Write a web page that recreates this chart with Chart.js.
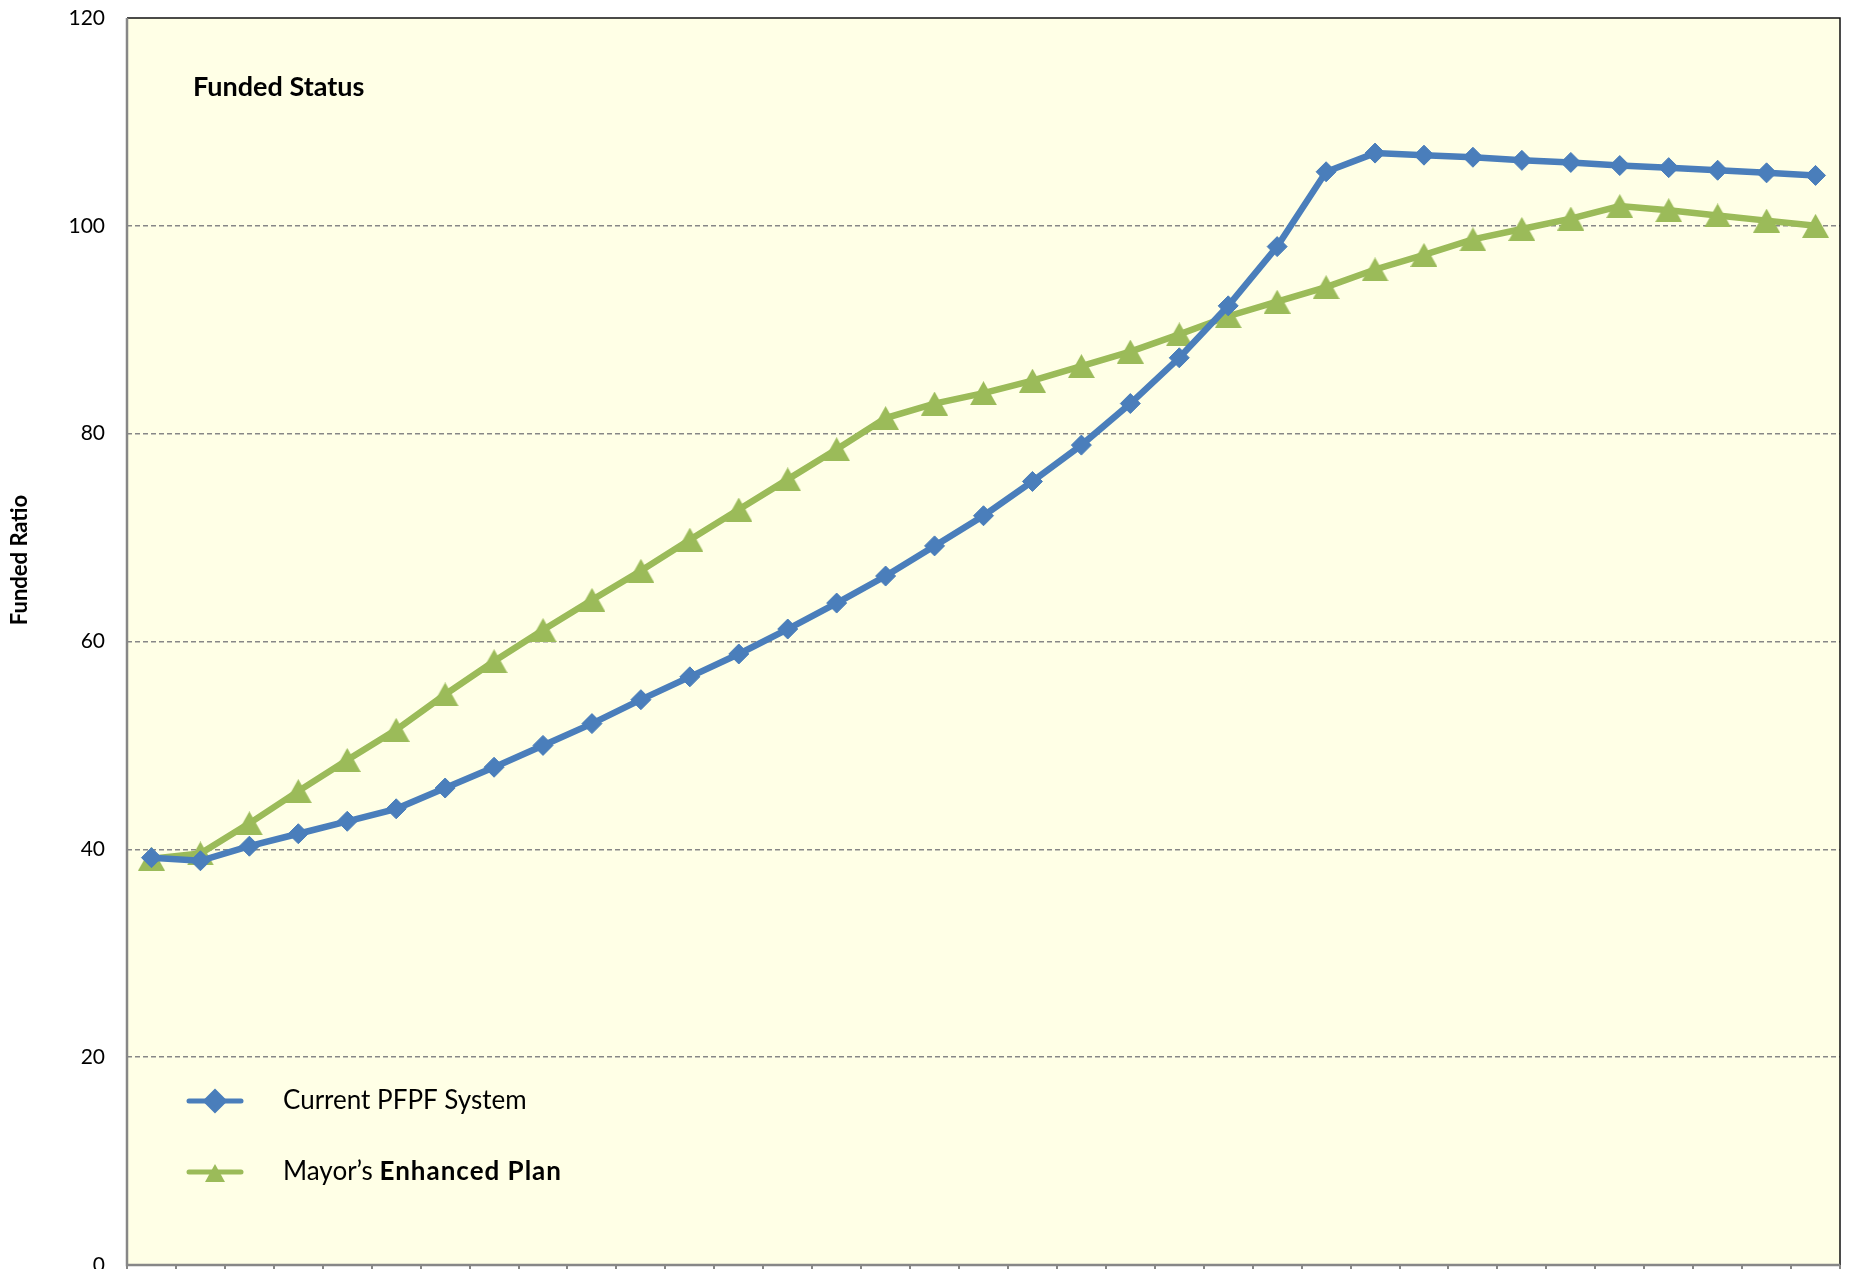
<!DOCTYPE html>
<html>
<head>
<meta charset="utf-8">
<script src="https://cdn.jsdelivr.net/npm/chart.js@4.4.1/dist/chart.umd.min.js"></script>
<style>
html, body { margin: 0; padding: 0; background: #fff; overflow: hidden; }
#wrap { width: 1850px; height: 1269px; overflow: hidden; }
canvas { display: block; }
</style>
</head>
<body>
<div id="wrap"><canvas id="fundedChart" width="1850" height="1269"></canvas></div>
<script>
// categories (labels are cut off in the original, years are assumed)
var years = ['2012', '2013', '2014', '2015', '2016', '2017', '2018', '2019', '2020', '2021',
    '2022', '2023', '2024', '2025', '2026', '2027', '2028', '2029', '2030', '2031',
    '2032', '2033', '2034', '2035', '2036', '2037', '2038', '2039', '2040', '2041',
    '2042', '2043', '2044', '2045', '2046'];

var currentSystem = [39.2, 38.9, 40.3, 41.5, 42.7, 43.9, 45.9, 47.9, 50.0, 52.1,
    54.4, 56.6, 58.8, 61.2, 63.7, 66.3, 69.2, 72.1, 75.4, 78.9,
    82.9, 87.3, 92.3, 98.0, 105.2, 107.0, 106.8, 106.6, 106.3, 106.1,
    105.8, 105.6, 105.35, 105.1, 104.85];

var enhancedPlan = [39.1, 39.6, 42.5, 45.6, 48.6, 51.5, 54.9, 58.1, 61.1, 64.0,
    66.8, 69.8, 72.7, 75.6, 78.5, 81.5, 82.9, 83.9, 85.1, 86.5,
    87.9, 89.55, 91.3, 92.7, 94.1, 95.8, 97.2, 98.7, 99.7, 100.7,
    101.9, 101.5, 101.0, 100.5, 100.0];

var yTicks = [0, 20, 40, 60, 80, 100, 120];

var blue = '#4A7EBB';
var green = '#9BBB59';
var axisGray = '#878787';
var fontFam = 'Lato, "Open Sans", sans-serif';

// Excel-style triangle marker, centred on its bounding box
function makeTriangle(w, h, color) {
    var c = document.createElement('canvas');
    c.width = w;
    c.height = h;
    var g = c.getContext('2d');
    g.fillStyle = color;
    g.beginPath();
    g.moveTo(w / 2, 0);
    g.lineTo(w, h);
    g.lineTo(0, h);
    g.closePath();
    g.fill();
    return c;
}
var triMarker = makeTriangle(27, 24, green);
var triLegend = makeTriangle(20, 18, green);

var plotDecor = {
    id: 'plotDecor',
    beforeDraw: function(chart) {
        var a = chart.chartArea;
        var ctx = chart.ctx;
        ctx.save();
        ctx.fillStyle = '#FFFFE6';
        ctx.fillRect(a.left, a.top, a.right - a.left, a.bottom - a.top);
        ctx.restore();
    },
    afterDatasetsDraw: function(chart) {
        var a = chart.chartArea;
        var ctx = chart.ctx;
        ctx.save();

        // frame: dark top/right, grey axes
        ctx.strokeStyle = '#111';
        ctx.lineWidth = 1.5;
        ctx.beginPath();
        ctx.moveTo(a.left, a.top);
        ctx.lineTo(a.right, a.top);
        ctx.lineTo(a.right, a.bottom);
        ctx.stroke();
        ctx.strokeStyle = axisGray;
        ctx.lineWidth = 2.5;
        ctx.beginPath();
        ctx.moveTo(a.left, a.top);
        ctx.lineTo(a.left, a.bottom);
        ctx.lineTo(a.right, a.bottom);
        ctx.stroke();

        ctx.fillStyle = '#000';
        ctx.textBaseline = 'middle';
        ctx.textAlign = 'center';

        // y axis title, sits above the middle like the original
        ctx.save();
        ctx.translate(20, 560);
        ctx.rotate(-Math.PI / 2);
        ctx.font = 'bold 22px ' + fontFam;
        ctx.fillText('Funded Ratio', 0, 0);
        ctx.restore();

        // title inside plot
        ctx.textAlign = 'left';
        ctx.font = 'bold 27px ' + fontFam;
        ctx.fillText('Funded Status', a.left + 66, a.top + 69);

        // legend inside plot
        var rows = [
            { ds: chart.data.datasets[0], y: 1101, parts: [['Current PFPF System', '', '0px']] },
            { ds: chart.data.datasets[1], y: 1172, parts: [['Mayor\u2019s ', '', '0px'], ['Enhanced Plan', 'bold ', '1px']] }
        ];
        rows.forEach(function(r) {
            ctx.strokeStyle = r.ds.borderColor;
            ctx.lineWidth = 5;
            ctx.lineCap = 'round';
            ctx.beginPath();
            ctx.moveTo(189, r.y);
            ctx.lineTo(241, r.y);
            ctx.stroke();
            ctx.fillStyle = r.ds.borderColor;
            if (r.ds.pointStyle === 'rectRot') {
                Chart.helpers.drawPoint(ctx, { pointStyle: 'rectRot', radius: 9, rotation: 0, borderWidth: 1 }, 215, r.y);
            } else {
                ctx.drawImage(triLegend, 215 - triLegend.width / 2, r.y - triLegend.height / 2 + 1);
            }
            ctx.fillStyle = '#000';
            var x = 283;
            r.parts.forEach(function(p) {
                ctx.font = p[1] + '26px ' + fontFam;
                ctx.letterSpacing = p[2];
                ctx.fillText(p[0], x, r.y);
                x += ctx.measureText(p[0]).width;
            });
            ctx.letterSpacing = '0px';
        });
        ctx.restore();
    }
};

var ctx = document.getElementById('fundedChart').getContext('2d');

var fundedChart = new Chart(ctx, {
    type: 'line',
    data: {
        labels: years,
        datasets: [{
            label: 'Current PFPF System',
            data: currentSystem,
            borderColor: blue,
            backgroundColor: blue,
            borderWidth: 6.5,
            pointStyle: 'rectRot',
            pointRadius: 10,
            pointBorderWidth: 1,
            pointBackgroundColor: blue,
            pointBorderColor: blue,
            tension: 0,
            fill: false
        }, {
            label: 'Mayor\u2019s Enhanced Plan',
            data: enhancedPlan,
            borderColor: green,
            backgroundColor: green,
            borderWidth: 6.5,
            pointStyle: triMarker,
            pointRadius: 12,
            tension: 0,
            fill: false
        }]
    },
    options: {
        responsive: false,
        animation: false,
        devicePixelRatio: 1,
        layout: { autoPadding: false, padding: { top: 18, right: 10, left: 0, bottom: 0 } },
        plugins: {
            legend: { display: false },
            title: { display: false },
            tooltip: { enabled: false }
        },
        scales: {
            x: {
                type: 'category',
                offset: true,
                grid: {
                    offset: true,
                    drawOnChartArea: false,
                    drawTicks: true,
                    tickLength: 4,
                    color: axisGray,
                    lineWidth: 2
                },
                border: { display: false },
                ticks: { display: false },
                afterFit: function(scale) {
                    scale.height = 4;
                    scale.paddingLeft = 0;
                    scale.paddingRight = 0;
                }
            },
            y: {
                min: 0,
                max: 120,
                afterBuildTicks: function(scale) {
                    scale.ticks = yTicks.map(function(v) { return { value: v }; });
                },
                afterFit: function(scale) {
                    scale.width = 127;
                    scale.paddingTop = 0;
                    scale.paddingBottom = 0;
                },
                grid: {
                    drawTicks: false,
                    lineWidth: 1.5,
                    color: function(c) {
                        if (c.tick && (c.tick.value === 0 || c.tick.value === 120)) return 'rgba(0,0,0,0)';
                        return axisGray;
                    }
                },
                border: { display: false, dash: [5, 3] },
                ticks: {
                    padding: 22,
                    color: '#000',
                    font: { family: fontFam, size: 21 }
                }
            }
        }
    },
    plugins: [plotDecor]
});
</script>
</body>
</html>
